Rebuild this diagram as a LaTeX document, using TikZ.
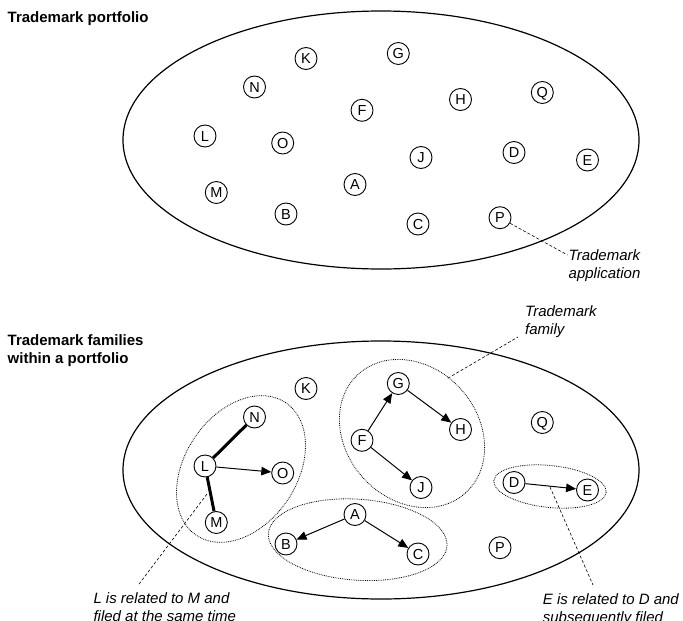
\documentclass[tikz,border=0pt]{standalone}
\usepackage{fontspec}
\setmainfont{Liberation Sans}
\usetikzlibrary{arrows.meta}
\begin{document}
\begin{tikzpicture}[x=1pt,y=-1pt,
  tm/.style={circle, draw, line width=0.9pt, fill=white, minimum size=22pt,
    inner sep=0pt, font=\fontsize{14.5}{14.5}\selectfont, text height=10.4pt, text depth=0pt},
  portfolio/.style={line width=1.2pt},
  family/.style={line width=0.8pt, densely dotted},
  link/.style={line width=1pt, -{Triangle[length=10pt,width=8.5pt]}},
  bond/.style={line width=3pt},
  leader/.style={line width=0.6pt, dash pattern=on 3pt off 2pt},
  title/.style={font=\bfseries\fontsize{15}{17.7}\selectfont, align=left,
    inner sep=0pt, anchor=north west},
  note/.style={font=\itshape\fontsize{15}{18}\selectfont, align=left,
    inner sep=0pt, anchor=north west}]

\useasboundingbox (0,0) rectangle (683,621);

% ---------- headings ----------
\node[title] (head1) at (7.5,11.3) {Trademark portfolio};
\node[title] (head2) at (7.5,334.6) {Trademark families\\within a portfolio};

% ---------- portfolio outlines ----------
\draw[portfolio] (381,140) ellipse [x radius=258pt, y radius=129pt];
\draw[portfolio] (381,470) ellipse [x radius=258pt, y radius=129pt];

% ---------- family outlines (lower portfolio) ----------
\draw[family, rotate around={56:(241,469)}] (241,469) ellipse [x radius=80pt, y radius=56pt];
\draw[family, rotate around={-48:(412,433.5)}] (412,433.5) ellipse [x radius=80pt, y radius=66pt];
\draw[family, rotate around={-4:(357.7,539.7)}] (357.7,539.7) ellipse [x radius=89.5pt, y radius=40.5pt];
\draw[family, rotate around={-6:(550,486.5)}] (550,486.5) ellipse [x radius=56.5pt, y radius=21pt];

% ---------- trademark applications (same layout in both portfolios) ----------
\foreach \n/\x/\y in {A/355/184.5, B/286/214, C/418/224, D/514/152.5,
    E/587.5/160, F/362/110.3, G/398.3/53.5, H/460.5/99.5, J/421/157.5,
    K/306/58.5, L/205/136, M/216.3/192.5, N/254.5/87, O/282.7/143,
    P/500/217.7, Q/542.3/92.5} {
  \node[tm] (t\n) at (\x,\y) {\n};
  \node[tm] (b\n) at (\x,\y+330) {\n};
}

% ---------- relations ----------
\draw[bond] (bL) -- (bN);
\draw[bond] (bL) -- (bM);
\draw[link] (bL) -- (bO);
\draw[link] (bF) -- (bG);
\draw[link] (bG) -- (bH);
\draw[link] (bF) -- (bJ);
\draw[link] (bA) -- (bB);
\draw[link] (bA) -- (bC);
\draw[link] (bD) -- (bE);

% ---------- annotations ----------
\node[note] (appl) at (568.5,249.5) {Trademark\\application};
\coordinate (applEnd) at (567.5,255);
\draw[leader] (tP.-29) -- (applEnd);

\node[note] (fam) at (525,305.5) {Trademark\\family};
\coordinate (famStart) at (447.7,378.3);
\coordinate (famEnd) at (518,337);
\draw[leader] (famStart) -- (famEnd);

\node[note] (same) at (93.3,592) {L is related to M and\\filed at the same time};
\coordinate (sameStart) at (207,494);
\coordinate (sameEnd) at (138.3,585);
\draw[leader] (sameStart) -- (sameEnd);

\node[note] (later) at (542.7,593) {E is related to D and\\subsequently filed};
\coordinate (laterStart) at (550,487);
\coordinate (laterEnd) at (593,585);
\draw[leader] (laterStart) -- (laterEnd);

\end{tikzpicture}
\end{document}
